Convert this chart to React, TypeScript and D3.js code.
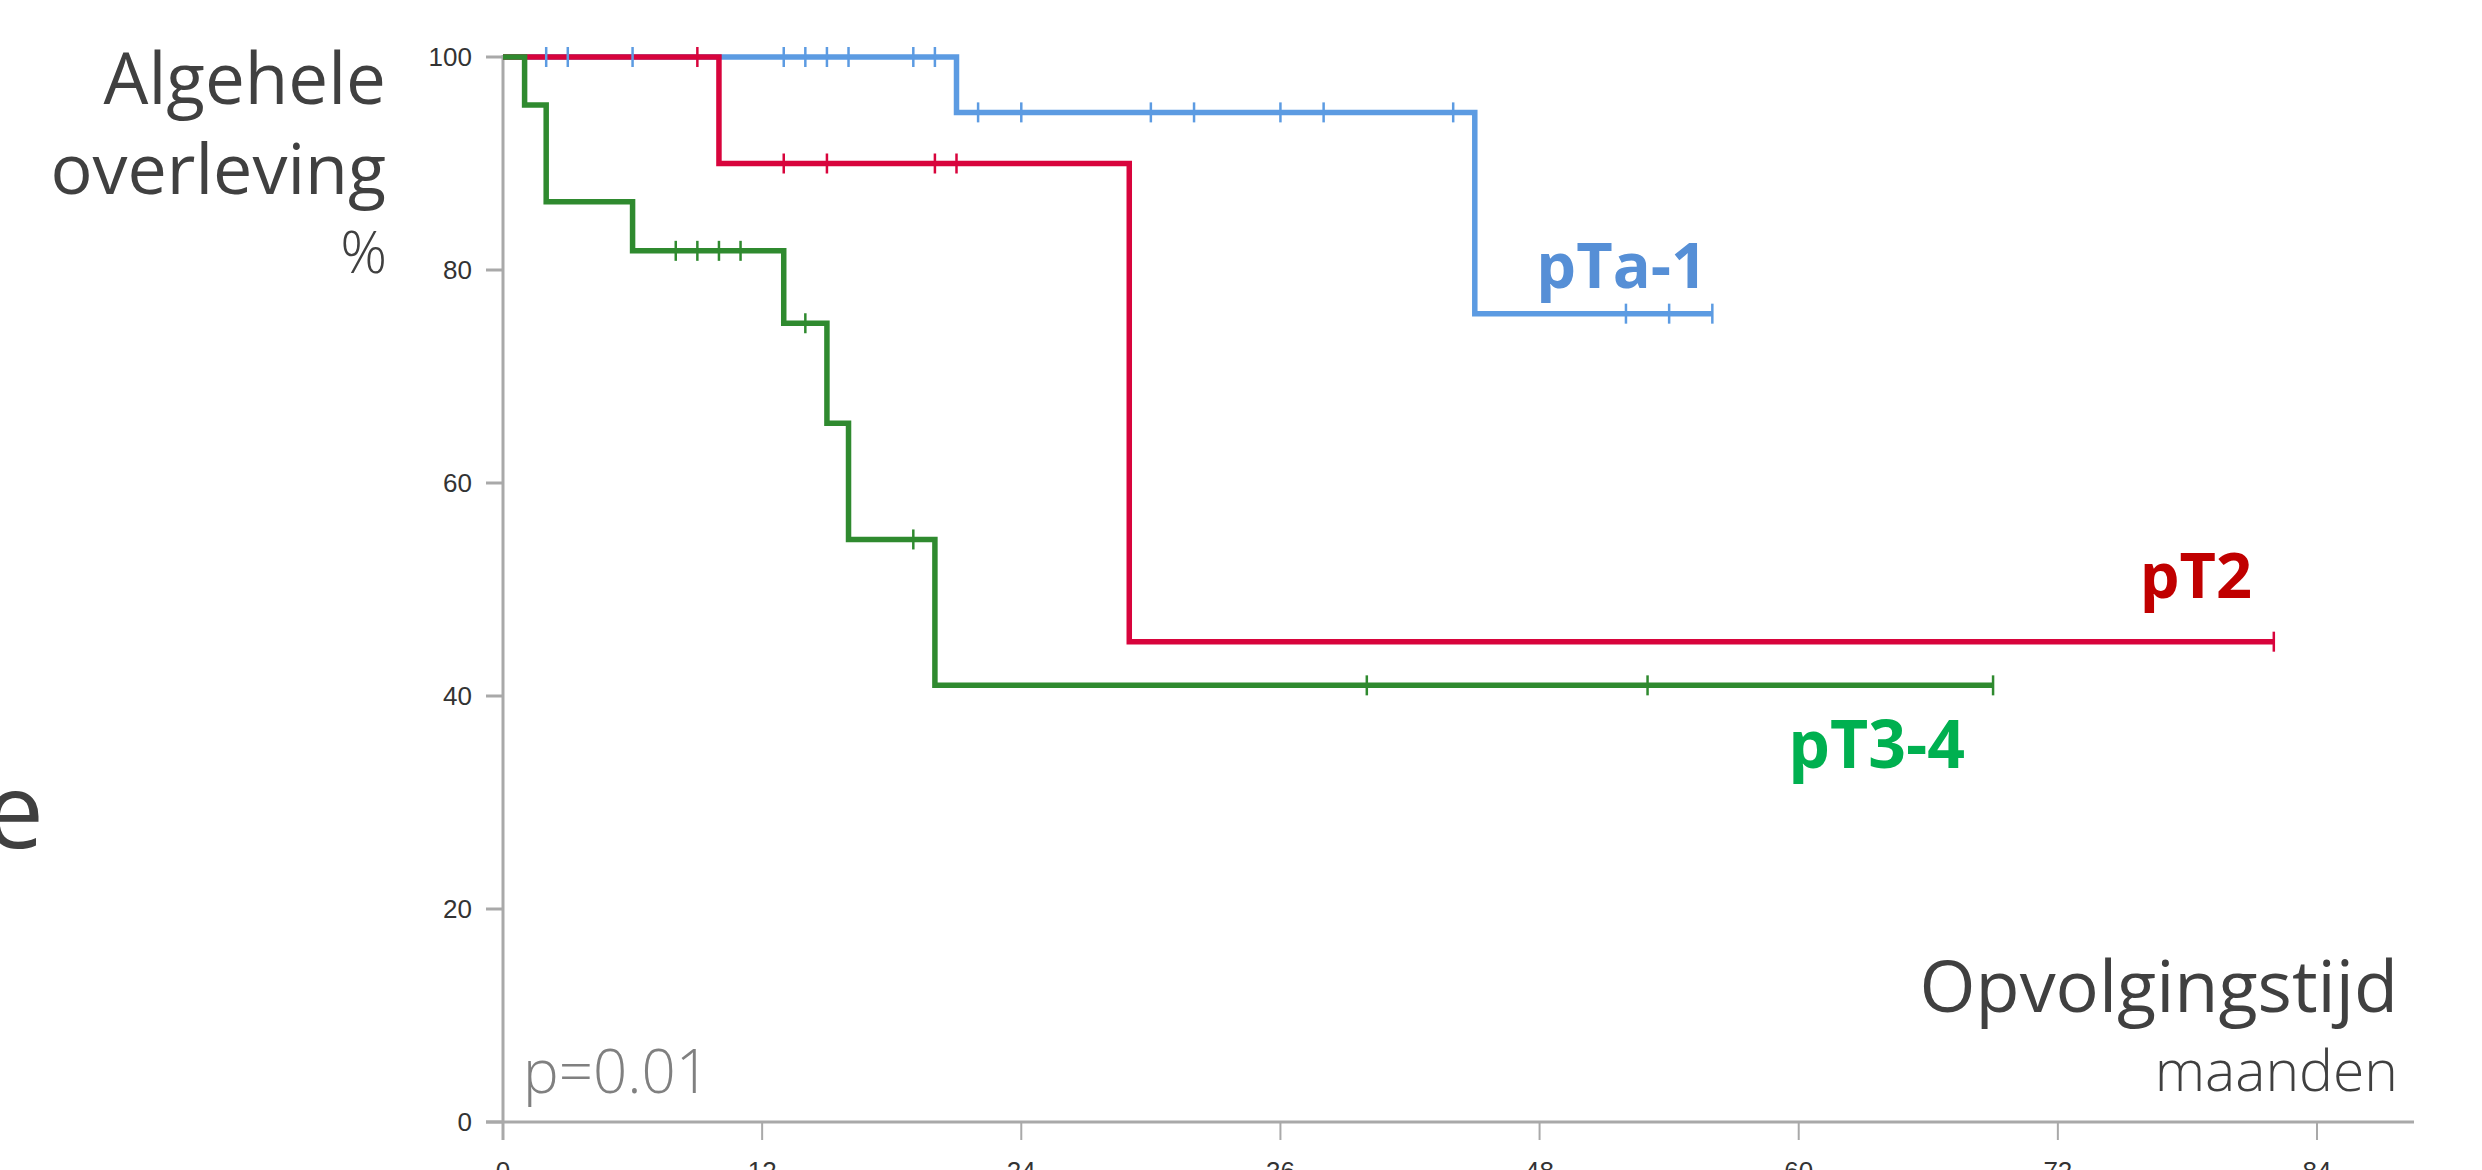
import React from "react";
import * as d3 from "d3";

// ---- data ----
const xTicks = [0, 12, 24, 36, 48, 60, 72, 84];
const yTicks = [0, 20, 40, 60, 80, 100];

const blueTimes = [0, 21, 45];
const blueSurv = [100, 94.8, 75.9];
const blueEnd = 56;
const blueCensor = [2, 3, 6, 13, 14, 15, 16, 19, 20, 22, 24, 30, 32, 36, 38, 44, 52, 54, 56];

const redTimes = [0, 10, 29];
const redSurv = [100, 90, 45.1];
const redEnd = 82;
const redCensor = [9, 13, 15, 20, 21, 82];

const greenTimes = [0, 1, 2, 6, 13, 15, 16, 20];
const greenSurv = [100, 95.5, 86.4, 81.8, 75.0, 65.6, 54.7, 41.0];
const greenEnd = 69;
const greenCensor = [8, 9, 10, 11, 14, 19, 40, 53, 69];

const seriesNames = ["pTa-1", "pT2", "pT3-4"];

const W = 2482;
const H = 1170;

const x = d3.scaleLinear().domain([0, 84]).range([503, 2317]);
const y = d3.scaleLinear().domain([0, 100]).range([1122, 57]);

type Series = {
  name: string;
  times: number[];
  surv: number[];
  end: number;
  censor: number[];
  color: string;
};

const series: Series[] = [
  { name: seriesNames[0], times: blueTimes, surv: blueSurv, end: blueEnd, censor: blueCensor, color: "#5c9be2" },
  { name: seriesNames[1], times: redTimes, surv: redSurv, end: redEnd, censor: redCensor, color: "#d8043c" },
  { name: seriesNames[2], times: greenTimes, surv: greenSurv, end: greenEnd, censor: greenCensor, color: "#2f8a2f" },
];

function points(s: Series): [number, number][] {
  const p: [number, number][] = s.times.map((t, i) => [t, s.surv[i]]);
  p.push([s.end, s.surv[s.surv.length - 1]]);
  return p;
}

function levelAt(s: Series, t: number): number {
  let v = s.surv[0];
  for (let i = 0; i < s.times.length; i++) if (s.times[i] <= t) v = s.surv[i];
  return v;
}

const stepLine = d3
  .line<[number, number]>()
  .x((d) => x(d[0]))
  .y((d) => y(d[1]))
  .curve(d3.curveStepAfter);

const axisColor = "#a9a9a9";
const textDark = "#404040";
const uiFont = "'Open Sans', 'Noto Sans', sans-serif";
const tickFont = "'Liberation Sans', Arial, sans-serif";

export default function App() {
  return (
    <svg
      width={W}
      height={H}
      style={{ position: "absolute", left: 0, top: 0, background: "#fff" }}
      xmlns="http://www.w3.org/2000/svg"
    >
      <rect x={0} y={0} width={W} height={H} fill="#fff" />

      {/* axes */}
      <line x1={x(0)} x2={x(0)} y1={55} y2={y(0) + 18} stroke={axisColor} strokeWidth={3} />
      <line x1={x(0) - 17} x2={2414} y1={y(0)} y2={y(0)} stroke={axisColor} strokeWidth={3} />
      {yTicks.map((v) => (
        <g key={"yt" + v}>
          <line x1={x(0) - 17} x2={x(0)} y1={y(v)} y2={y(v)} stroke={axisColor} strokeWidth={3} />
          <text
            x={472}
            y={y(v)}
            dy="0.35em"
            textAnchor="end"
            fontFamily={tickFont}
            fontSize={26}
            fill="#333"
          >
            {v}
          </text>
        </g>
      ))}
      {xTicks.map((t) => (
        <g key={"xt" + t}>
          <line x1={x(t)} x2={x(t)} y1={y(0)} y2={y(0) + 18} stroke={axisColor} strokeWidth={2} />
          <text
            x={x(t)}
            y={1180}
            textAnchor="middle"
            fontFamily={tickFont}
            fontSize={26}
            fill="#333"
          >
            {t}
          </text>
        </g>
      ))}

      {/* curves */}
      {series.map((s) => (
        <path
          key={"l" + s.name}
          d={stepLine(points(s)) || ""}
          fill="none"
          stroke={s.color}
          strokeWidth={5.5}
          strokeLinejoin="miter"
        />
      ))}
      {series.map((s) =>
        s.censor.map((t, i) => (
          <line
            key={"c" + s.name + i}
            x1={x(t)}
            x2={x(t)}
            y1={y(levelAt(s, t)) - 10}
            y2={y(levelAt(s, t)) + 10}
            stroke={s.color}
            strokeWidth={2.5}
          />
        ))
      )}

      {/* series labels */}
      <text x={1707} y={288} textAnchor="end" fontFamily={uiFont} fontWeight={700} fontSize={63} fill="#568fd6">
        {seriesNames[0]}
      </text>
      <text x={2252} y={598} textAnchor="end" fontFamily={uiFont} fontWeight={700} fontSize={63} fill="#c00000">
        {seriesNames[1]}
      </text>
      <text x={1965} y={768} textAnchor="end" fontFamily={uiFont} fontWeight={700} fontSize={66} fill="#00b050">
        {seriesNames[2]}
      </text>

      {/* axis titles */}
      <text x={386} y={104} textAnchor="end" fontFamily={uiFont} fontSize={71} fill={textDark}>
        Algehele
      </text>
      <text x={386} y={194} textAnchor="end" fontFamily={uiFont} fontSize={70} fill={textDark}>
        overleving
      </text>
      <text x={387} y={273} textAnchor="end" fontFamily={uiFont} fontWeight={300} fontSize={58} fill={textDark}>
        %
      </text>
      <text x={2398} y={1012} textAnchor="end" fontFamily={uiFont} fontWeight={400} fontSize={72} fill={textDark}>
        Opvolgingstijd
      </text>
      <text x={2398} y={1091} textAnchor="end" fontFamily={uiFont} fontWeight={300} fontSize={57} fill={textDark}>
        maanden
      </text>
      <text x={523} y={1093} fontFamily={uiFont} fontWeight={300} fontSize={60} fill="#808080">
        p=0.01
      </text>

      {/* cut-off letter from neighbouring slide text */}
      <text x={44} y={848} textAnchor="end" fontFamily={uiFont} fontSize={105} fill={textDark}>
        e
      </text>
    </svg>
  );
}
